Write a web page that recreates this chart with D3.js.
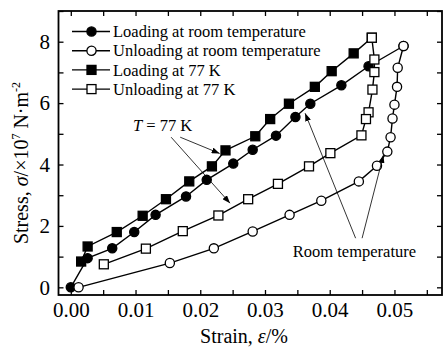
<!DOCTYPE html>
<html>
<head>
<meta charset="utf-8">
<script src="https://cdn.jsdelivr.net/npm/d3@7"></script>
<style>
  body { margin: 0; background: #fff; }
  svg text { font-family: "Liberation Serif", "Times New Roman", serif; fill: #000; }
</style>
</head>
<body>
<svg id="chart"></svg>
<script>
// strain (%) / stress (x10^7 N/m^2)
const loadRTStrain   = [0, 0.0026, 0.0064, 0.0098, 0.0131, 0.0178, 0.0210, 0.0251, 0.0281, 0.0317, 0.0347, 0.0370, 0.0418, 0.0460, 0.0514];
const loadRTStress   = [0, 0.95, 1.27, 1.80, 2.36, 2.96, 3.50, 4.03, 4.48, 4.94, 5.55, 5.98, 6.58, 7.20, 7.86];
const unloadRTStrain = [0.0514, 0.0505, 0.0504, 0.0500, 0.0497, 0.0494, 0.0489, 0.0473, 0.0445, 0.0387, 0.0338, 0.0281, 0.0221, 0.0153, 0.0012];
const unloadRTStress = [7.86, 7.15, 6.53, 5.95, 5.50, 4.89, 4.42, 3.96, 3.45, 2.82, 2.36, 1.82, 1.27, 0.79, 0.0];
const load77Strain   = [0.0016, 0.0026, 0.0071, 0.0111, 0.0147, 0.0183, 0.0218, 0.0239, 0.0285, 0.0308, 0.0337, 0.0377, 0.0403, 0.0437, 0.0465];
const load77Stress   = [0.84, 1.33, 1.80, 2.33, 2.87, 3.45, 3.94, 4.46, 4.92, 5.48, 5.98, 6.53, 7.04, 7.62, 8.13];
const unload77Strain = [0.0465, 0.0469, 0.0469, 0.0466, 0.0460, 0.0456, 0.0449, 0.0401, 0.0368, 0.0320, 0.0274, 0.0228, 0.0173, 0.0116, 0.0051];
const unload77Stress = [8.13, 7.42, 7.01, 6.44, 5.70, 5.48, 4.95, 4.37, 3.94, 3.37, 2.87, 2.34, 1.83, 1.26, 0.75];

const seriesNames = ["Loading at room temperature", "Unloading at room temperature", "Loading at 77 K", "Unloading at 77 K"];
const xTicks = [0, 0.01, 0.02, 0.03, 0.04, 0.05];
const yTicks = [0, 2, 4, 6, 8];

// annotation anchors in data units: [x, y]
const label77 = [0.0096, 5.10];
const arrows77 = [[[0.0169, 4.89], [0.0230, 4.36]], [[0.0155, 4.89], [0.0246, 2.74]]];
const labelRT = [0.0343, 0.99];
const arrowsRT = [[[0.0440, 1.60], [0.0362, 5.67]], [[0.0450, 1.60], [0.0483, 4.31]]];

const W = 443, H = 349;
const pLeft = 58.5, pRight = 442, pTop = 11, pBottom = 295;
const serif = '"Liberation Serif", "Times New Roman", serif';

const svg = d3.select("#chart").attr("width", W).attr("height", H);

const x = d3.scaleLinear().domain([-0.0019, 0.0575]).range([pLeft, 443]);
const y = d3.scaleLinear().domain([-0.25, 9]).range([pBottom, pTop]);

svg.append("defs").append("marker")
  .attr("id", "arrow")
  .attr("markerUnits", "userSpaceOnUse")
  .attr("markerWidth", 9).attr("markerHeight", 6)
  .attr("refX", 8).attr("refY", 3)
  .attr("orient", "auto")
  .append("path").attr("d", "M0,0 L8,3 L0,6 Z").attr("fill", "#000");

// axes: all ticks inward, labels only on majors
const xAll = d3.range(0, 12).map(i => i * 0.005);
const yAll = d3.range(0, 10);

const fmtX = d => xTicks.some(t => Math.abs(t - d) < 1e-9) ? d3.format(".2f")(d) : "";
const fmtY = d => yTicks.includes(d) ? d : "";

svg.append("g").attr("transform", `translate(0,${pBottom})`)
  .call(d3.axisBottom(x).tickValues(xAll).tickFormat(fmtX).tickSizeInner(-5).tickSizeOuter(0).tickPadding(7));
svg.append("g").attr("transform", `translate(${pLeft},0)`)
  .call(d3.axisLeft(y).tickValues(yAll).tickFormat(fmtY).tickSizeInner(-5).tickSizeOuter(0).tickPadding(8.5));
svg.append("g").attr("transform", `translate(0,${pTop})`)
  .call(d3.axisTop(x).tickValues(xAll).tickFormat("").tickSizeInner(-5).tickSizeOuter(0));
svg.append("g").attr("transform", `translate(${pRight},0)`)
  .call(d3.axisRight(y).tickValues(yAll).tickFormat("").tickSizeInner(-5).tickSizeOuter(0));

svg.selectAll(".domain").remove();
svg.selectAll(".tick line").attr("stroke", "#000").attr("stroke-width", 1.3);
svg.selectAll(".tick text")
  .style("font-family", serif)
  .style("font-size", "21px")
  .attr("fill", "#000");

svg.append("rect")
  .attr("x", pLeft).attr("y", pTop)
  .attr("width", pRight - pLeft).attr("height", pBottom - pTop)
  .attr("fill", "none").attr("stroke", "#000").attr("stroke-width", 1.8);

// axis titles
svg.append("text")
  .attr("x", 244).attr("y", 343)
  .attr("text-anchor", "middle")
  .style("font-size", "20px")
  .html('Strain, <tspan font-style="italic">ε</tspan>/%');

const yl = svg.append("text")
  .attr("transform", "translate(28,163) rotate(-90)")
  .attr("text-anchor", "middle")
  .style("font-size", "20px");
yl.append("tspan").text("Stress, ");
yl.append("tspan").attr("font-style", "italic").text("σ");
yl.append("tspan").text("/×10");
yl.append("tspan").attr("dy", -8).style("font-size", "12px").text("7");
yl.append("tspan").attr("dy", 8).text(" N·m");
yl.append("tspan").attr("dy", -8).style("font-size", "12px").text("-2");

// series
const series = [
  { xs: loadRTStrain,   ys: loadRTStress,   shape: "circle", fill: "#000" },
  { xs: unloadRTStrain, ys: unloadRTStress, shape: "circle", fill: "#fff" },
  { xs: load77Strain,   ys: load77Stress,   shape: "square", fill: "#000" },
  { xs: unload77Strain, ys: unload77Stress, shape: "square", fill: "#fff" }
];

const line = d3.line().x(d => x(d[0])).y(d => y(d[1]));

function drawMarker(g, shape, fill, cx, cy) {
  if (shape === "circle") {
    g.append("circle").attr("cx", cx).attr("cy", cy).attr("r", 4.6)
      .attr("fill", fill).attr("stroke", "#000").attr("stroke-width", 1.3);
  } else {
    g.append("rect").attr("x", cx - 4.5).attr("y", cy - 4.5).attr("width", 9).attr("height", 9)
      .attr("fill", fill).attr("stroke", "#000").attr("stroke-width", 1.3);
  }
}

series.forEach(s => {
  const pts = s.xs.map((v, i) => [v, s.ys[i]]);
  svg.append("path").datum(pts)
    .attr("d", line).attr("fill", "none").attr("stroke", "#000").attr("stroke-width", 1.4);
});
series.forEach(s => {
  const g = svg.append("g");
  s.xs.forEach((v, i) => drawMarker(g, s.shape, s.fill, x(v), y(s.ys[i])));
});

// legend
series.forEach((s, i) => {
  const row = svg.append("g").attr("transform", `translate(72, ${31.5 + i * 19.2})`);
  row.append("line").attr("x1", 0).attr("x2", 38).attr("stroke", "#000").attr("stroke-width", 1.4);
  drawMarker(row, s.shape, s.fill, 19.5, 0);
  row.append("text").attr("x", 41).attr("dy", "0.35em")
    .style("font-size", "16.5px").text(seriesNames[i]);
});

// annotations
const t77 = svg.append("text").attr("x", x(label77[0])).attr("y", y(label77[1])).style("font-size", "16.5px");
t77.append("tspan").attr("font-style", "italic").text("T");
t77.append("tspan").text(" = 77 K");

svg.append("text").attr("x", x(labelRT[0])).attr("y", y(labelRT[1]))
  .style("font-size", "16.5px").text("Room temperature");

arrows77.concat(arrowsRT).forEach(a => {
  svg.append("line")
    .attr("x1", x(a[0][0])).attr("y1", y(a[0][1]))
    .attr("x2", x(a[1][0])).attr("y2", y(a[1][1]))
    .attr("stroke", "#000").attr("stroke-width", 0.8)
    .attr("marker-end", "url(#arrow)");
});
</script>
</body>
</html>
